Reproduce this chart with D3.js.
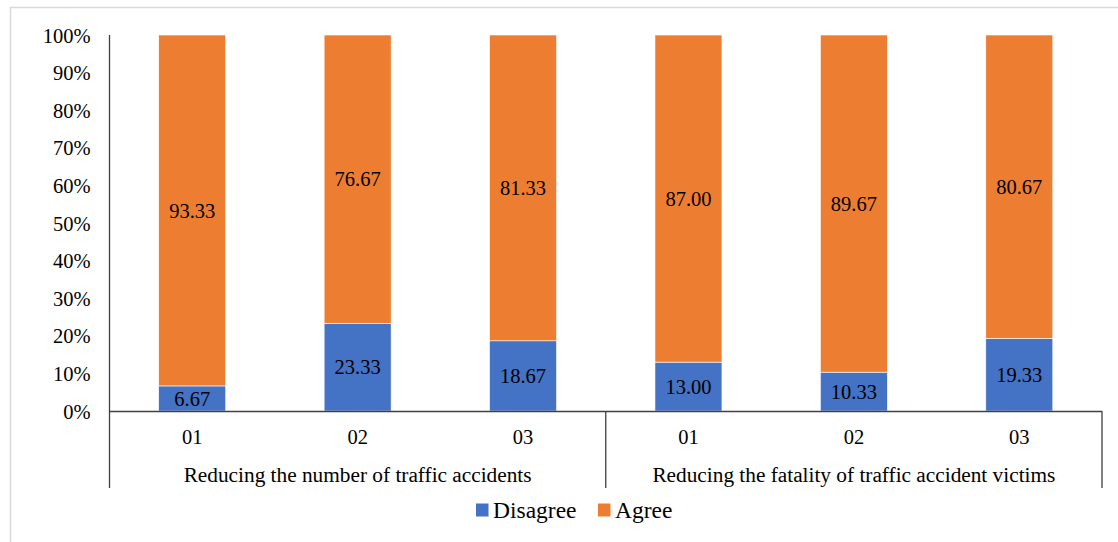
<!DOCTYPE html>
<html>
<head>
<meta charset="utf-8">
<script src="https://cdn.jsdelivr.net/npm/d3@7"></script>
<style>
  html, body { margin: 0; padding: 0; background: #fff; }
  svg { display: block; }
</style>
</head>
<body>
<svg id="chart" width="1118" height="542"></svg>
<script>
// Survey responses per item (percent)
const groups = ["Reducing the number of traffic accidents", "Reducing the fatality of traffic accident victims"];
const items = ["01", "02", "03"];
const disagree = [6.67, 23.33, 18.67, 13.00, 10.33, 19.33];
const agree = [93.33, 76.67, 81.33, 87.00, 89.67, 80.67];
const seriesNames = ["Disagree", "Agree"];
const seriesColors = ["#4472C4", "#ED7D31"];
const yTicks = [0, 10, 20, 30, 40, 50, 60, 70, 80, 90, 100];

const FONT = "'Liberation Serif', 'Times New Roman', 'DejaVu Serif', serif";

const svg = d3.select("#chart");
const W = 1118, H = 542;

// outer chart-area frame (runs past the right and bottom edges)
svg.append("rect")
  .attr("x", 10.5).attr("y", 7.5)
  .attr("width", W + 20).attr("height", H + 20)
  .attr("fill", "#fff").attr("stroke", "#d9d9d9").attr("stroke-width", 1.5);

const plotLeft = 109.5, plotRight = 1102, plotTop = 35, plotBottom = 411;

const slots = d3.range(disagree.length);
const x = d3.scaleBand().domain(slots).range([plotLeft, plotRight]).paddingInner(0.595).paddingOuter(0.2975);
const y = d3.scaleLinear().domain([0, 100]).range([plotBottom, plotTop]);

const rows = slots.map(i => ({
  i,
  item: items[i % items.length],
  segs: [
    { key: 0, y0: 0, y1: disagree[i], v: disagree[i] },
    { key: 1, y0: disagree[i], y1: disagree[i] + agree[i], v: agree[i] }
  ]
}));

function label(sel, size) {
  return sel.style("font-family", FONT).style("font-size", size + "px").attr("fill", "#000");
}

// y axis
const yAxis = d3.axisLeft(y).tickValues(yTicks).tickFormat(d => d + "%").tickSize(0).tickPadding(19);
const gy = svg.append("g").attr("transform", `translate(${plotLeft},0)`).call(yAxis);
gy.attr("font-family", null).attr("font-size", null);
gy.select(".domain").remove();
label(gy.selectAll("text"), 20.5).attr("dy", "0.35em");

// bars
const barG = svg.append("g");
rows.forEach(r => {
  r.segs.forEach(s => {
    barG.append("rect")
      .attr("x", x(r.i))
      .attr("y", y(s.y1))
      .attr("width", x.bandwidth())
      .attr("height", y(s.y0) - y(s.y1))
      .attr("fill", seriesColors[s.key])
      .attr("stroke", "#fff").attr("stroke-width", 0.6);
  });
});

// value labels
rows.forEach(r => {
  r.segs.forEach(s => {
    label(svg.append("text"), 20.5)
      .attr("x", x(r.i) + x.bandwidth() / 2)
      .attr("y", y((s.y0 + s.y1) / 2))
      .attr("dy", "0.35em")
      .attr("text-anchor", "middle")
      .text(s.v.toFixed(2));
  });
});

// axis lines
const axisColor = "#404040";
svg.append("line").attr("x1", plotLeft).attr("x2", plotLeft).attr("y1", plotTop).attr("y2", 488)
  .attr("stroke", axisColor).attr("stroke-width", 1.3);
svg.append("line").attr("x1", plotLeft).attr("x2", plotRight).attr("y1", plotBottom + 0.5).attr("y2", plotBottom + 0.5)
  .attr("stroke", axisColor).attr("stroke-width", 1.3);
const groupWidth = (plotRight - plotLeft) / groups.length;
groups.forEach((g, gi) => {
  const xr = plotLeft + groupWidth * (gi + 1);
  svg.append("line").attr("x1", xr).attr("x2", xr).attr("y1", plotBottom).attr("y2", 488)
    .attr("stroke", axisColor).attr("stroke-width", 1.3);
  label(svg.append("text"), 21.3)
    .attr("x", plotLeft + groupWidth * (gi + 0.5))
    .attr("y", 475)
    .attr("dy", "0.35em")
    .attr("text-anchor", "middle")
    .text(g);
});

// item labels
rows.forEach(r => {
  label(svg.append("text"), 20.5)
    .attr("x", x(r.i) + x.bandwidth() / 2)
    .attr("y", 437)
    .attr("dy", "0.35em")
    .attr("text-anchor", "middle")
    .text(r.item);
});

// legend
const legend = svg.append("g").attr("transform", "translate(476,510)");
const legendX = [0, 122];
seriesNames.forEach((n, k) => {
  const g = legend.append("g").attr("transform", `translate(${legendX[k]},0)`);
  g.append("rect").attr("x", 0).attr("y", -6.5).attr("width", 12.5).attr("height", 13).attr("fill", seriesColors[k]);
  label(g.append("text"), 23.5).attr("x", 17).attr("y", 0).attr("dy", "0.35em").text(n);
});
</script>
</body>
</html>
